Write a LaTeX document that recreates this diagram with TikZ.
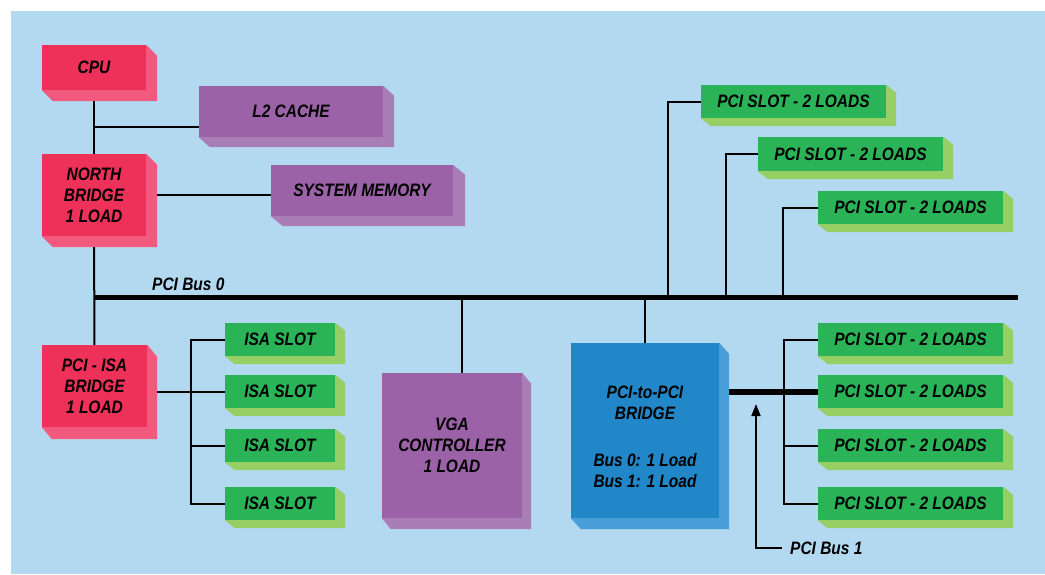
\documentclass[tikz,border=0pt]{standalone}
\usepackage{fontspec}
\setmainfont{Liberation Sans}[FakeStretch=0.86]
\usetikzlibrary{backgrounds,calc,arrows.meta}
\definecolor{bgblue}{HTML}{B3D9F1}
\definecolor{redF}{HTML}{EE3158}
\definecolor{redS}{HTML}{F15A7E}
\definecolor{purF}{HTML}{9C62A7}
\definecolor{purS}{HTML}{A97DB6}
\definecolor{grnF}{HTML}{2BB457}
\definecolor{grnS}{HTML}{97CF65}
\definecolor{bluF}{HTML}{2187C8}
\definecolor{bluS}{HTML}{4A9FD8}
\newcommand\extr[4]{%
  \fill[#4] (#1.north east) -- ++(#2,#3) -- ($(#1.south east)+(#2,#3)$)
    -- ($(#1.south west)+(#2,#3)$) -- (#1.south west) -- (#1.south east) -- cycle;}
\tikzset{
  lbl/.style={inner sep=0pt, align=center, text=black,
    font=\fontsize{18}{21}\selectfont\bfseries\itshape},
  blk/.style={lbl, rectangle},
  redbox/.style={blk, fill=redF},
  purbox/.style={blk, fill=purF},
  grnbox/.style={blk, fill=grnF},
  blubox/.style={blk, fill=bluF},
  slotbox/.style={grnbox, minimum height=33},
  wire/.style={line width=2pt, black},
  busline/.style={line width=5pt, black},
}
\begin{document}
\begin{tikzpicture}[x=1pt,y=-1pt]
\useasboundingbox (0,0) rectangle (1045,574);

% ---- blocks ----
\node[redbox, minimum width=104, minimum height=45] (cpu) at (94,67.5) {CPU};
\node[purbox, minimum width=184, minimum height=51] (l2) at (291,111.5) {L2 CACHE};
\node[purbox, minimum width=182, minimum height=51] (mem) at (362,190.5) {SYSTEM MEMORY};
\node[redbox, minimum width=104, minimum height=82] (nb) at (94,195) {NORTH\\BRIDGE\\1 LOAD};
\node[redbox, minimum width=105, minimum height=82] (isab) at (94.5,386) {PCI - ISA\\BRIDGE\\1 LOAD};
\node[slotbox, minimum width=110] (isa1) at (280,339.5) {ISA SLOT};
\node[slotbox, minimum width=110] (isa2) at (280,391.5) {ISA SLOT};
\node[slotbox, minimum width=110] (isa3) at (280,445.5) {ISA SLOT};
\node[slotbox, minimum width=110] (isa4) at (280,503.5) {ISA SLOT};
\node[purbox, minimum width=140, minimum height=145] (vga) at (452,445.5) {VGA\\CONTROLLER\\1 LOAD};
\node[blubox, minimum width=148, minimum height=175] (p2p) at (645,430.5)
  {\parbox{140pt}{\vspace*{13pt}\centering PCI-to-PCI\\BRIDGE\\[26pt]Bus 0: 1 Load\\Bus 1: 1 Load}};
\node[slotbox, minimum width=185] (pa) at (793.5,101.5) {PCI SLOT - 2 LOADS};
\node[slotbox, minimum width=185, minimum height=34] (pb) at (850.5,154) {PCI SLOT - 2 LOADS};
\node[slotbox, minimum width=185] (pc) at (910.5,207.5) {PCI SLOT - 2 LOADS};
\node[slotbox, minimum width=185] (q1) at (910.5,339.5) {PCI SLOT - 2 LOADS};
\node[slotbox, minimum width=185] (q2) at (910.5,391.5) {PCI SLOT - 2 LOADS};
\node[slotbox, minimum width=185] (q3) at (910.5,445.5) {PCI SLOT - 2 LOADS};
\node[slotbox, minimum width=185] (q4) at (910.5,503.5) {PCI SLOT - 2 LOADS};

\node[lbl, anchor=west] (bus0lbl) at (152,284) {PCI Bus 0};
\node[lbl, anchor=west, inner xsep=8pt] (bus1lbl) at (782,548) {PCI Bus 1};

% ---- extrusions ----
\extr{cpu}{11}{11}{redS}
\extr{nb}{11}{11}{redS}
\extr{isab}{10}{12}{redS}
\extr{l2}{11}{10}{purS}
\extr{mem}{12}{10}{purS}
\extr{vga}{9}{11}{purS}
\extr{p2p}{10}{11}{bluS}
\foreach \n in {isa1,isa2,isa3,isa4,pa,pb,pc,q1,q2,q3,q4}{\extr{\n}{10}{8}{grnS}}

% ---- connectors ----
\begin{scope}[on background layer]
  \fill[white] (0,0) rectangle (1045,574);
  \fill[bgblue] (11,11) rectangle (1045,574);
  \coordinate (b0l) at (94,297);
  \coordinate (b0r) at (1018,297);
  \coordinate (j1) at (94,127);
  \coordinate (it) at (191,0);
  \coordinate (qt) at (784,0);
  \coordinate (ta) at (668,297);
  \coordinate (tb) at (726,297);
  \coordinate (tc) at (783,297);
  \coordinate (vt) at (462,297);
  \coordinate (arrtip) at (756,404);

  \draw[busline] (b0l) -- (b0r);
  \draw[wire] (cpu) -- (nb);
  \draw[wire] (j1) -- (j1 -| l2.west);
  \draw[wire] (nb.east) -- (nb.east -| mem.west);
  \draw[wire] (nb) -- (isab);
  \draw[wire] (isa2.west) -- (isa2.west -| isab.east);
  \draw[wire] (isa1.west) -- (isa1.west -| it) -- (isa4.west -| it) -- (isa4.west);
  \draw[wire] (isa3.west) -- (isa3.west -| it);
  \draw[wire] (vt) -- (vt |- vga.north);
  \draw[wire] (p2p.north) -- (p2p.north |- b0l);
  \draw[wire] (ta) |- (pa.west);
  \draw[wire] (tb) |- (pb.west);
  \draw[wire] (tc) |- (pc.west);
  \draw[line width=6pt] (q2.west -| p2p.east) -- (q2.west);
  \draw[wire] (q1.west) -- (q1.west -| qt) -- (q4.west -| qt) -- (q4.west);
  \draw[wire] (q3.west) -- (q3.west -| qt);
  \draw[wire, -{Triangle[length=12pt,width=9pt]}] (bus1lbl.west) -| (arrtip);
\end{scope}
\end{tikzpicture}
\end{document}
